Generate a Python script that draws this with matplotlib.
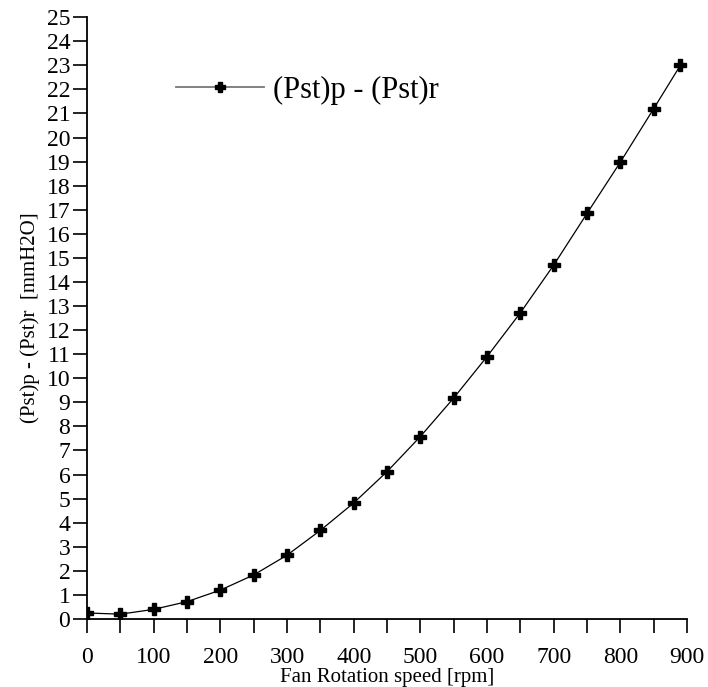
import numpy as np
import matplotlib.pyplot as plt
from matplotlib.ticker import MultipleLocator

# Fan speed (rpm) and pressure difference (mmH2O)
speed = [0, 50, 100, 150, 200, 250, 300, 350, 400, 450, 500, 550, 600, 650, 700, 750, 800, 850, 890]
dp = [0.25, 0.2, 0.4, 0.72, 1.2, 1.83, 2.65, 3.68, 4.82, 6.12, 7.58, 9.18, 10.9, 12.72, 14.7, 16.85, 18.98, 21.2, 23.0]
series_label = "(Pst)p - (Pst)r"

plt.rcParams['font.family'] = ['Liberation Serif', 'DejaVu Serif']

fig = plt.figure(figsize=(7.08, 6.87), dpi=100)
ax = fig.add_axes([0.1229, 0.099, 0.8475, 0.876])

ax.plot(speed, dp, color="black", linewidth=0.9)
ax.plot(speed, dp, linestyle="none", marker="P", color="black", markersize=8.5)

# legend proxy: grey line with a black marker on it
line_proxy, = ax.plot([], [], color="#777777", linewidth=1.3)
mark_proxy, = ax.plot([], [], linestyle="none", marker="P", color="black", markersize=7)
ax.legend([(line_proxy, mark_proxy)], [series_label], loc="upper left",
          bbox_to_anchor=(0.102, 0.948), frameon=False, fontsize=22,
          handlelength=2.9, handletextpad=0.3)

ax.set_xlim(0, 900)
ax.set_ylim(0, 25)
ax.xaxis.set_major_locator(MultipleLocator(100))
ax.xaxis.set_minor_locator(MultipleLocator(50))
ax.yaxis.set_major_locator(MultipleLocator(1))
ax.tick_params(axis="both", which="both", direction="out", length=10, width=1.2, labelsize=17)
ax.tick_params(axis="x", pad=10)
ax.tick_params(axis="y", pad=2)

for side in ["top", "right"]:
    ax.spines[side].set_visible(False)
for side in ["left", "bottom"]:
    ax.spines[side].set_linewidth(1.3)

ax.set_xlabel("Fan Rotation speed [rpm]", fontsize=15, labelpad=0)
ax.set_ylabel("(Pst)p - (Pst)r  [mmH2O]", fontsize=15, labelpad=2)
ax.yaxis.set_label_coords(-0.078, 0.5)

fig.savefig("out.png", dpi=100)
